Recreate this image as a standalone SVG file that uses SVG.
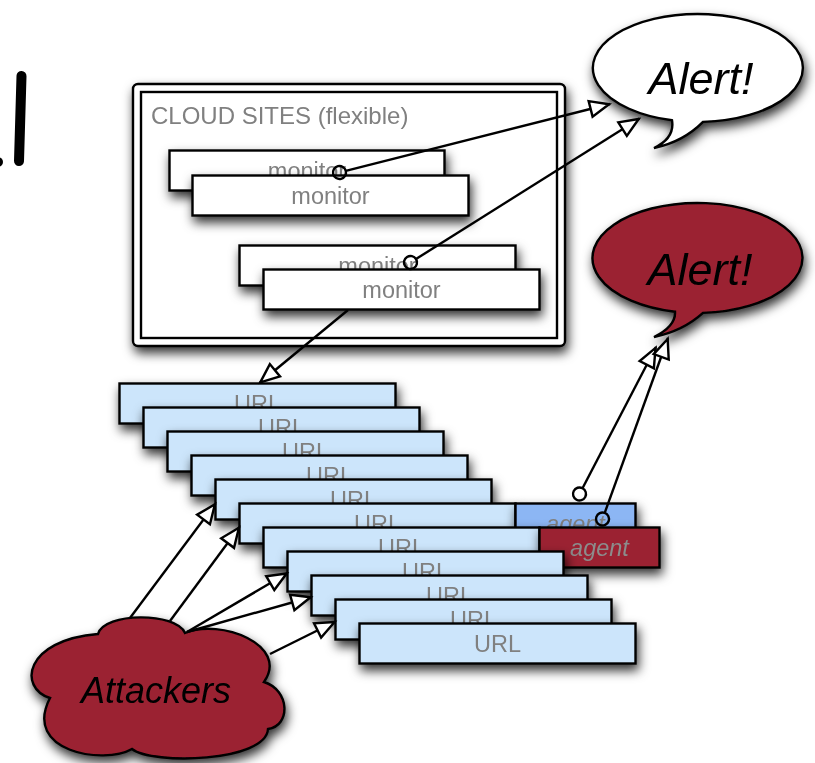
<svg xmlns="http://www.w3.org/2000/svg" width="815" height="763" viewBox="0 0 815 763">
<defs>
<style>
.box{stroke:#000;stroke-width:2.4}
.mon{fill:#fff}
.url{fill:#cce5fb}
.lbl{font-family:"Liberation Sans",Arial,sans-serif;font-size:23.5px;fill:#808080;text-anchor:middle}
.ital{font-style:italic}
.big{font-family:"Liberation Sans",Arial,sans-serif;font-size:45px;font-style:italic;fill:#000;text-anchor:middle}
.conn{fill:none;stroke:#000;stroke-width:2.4}
</style>
<filter id="sh" x="-30%" y="-50%" width="160%" height="230%">
<feDropShadow dx="2" dy="6" stdDeviation="5.5" flood-color="#000" flood-opacity="0.8"/>
</filter>
<marker id="arr" viewBox="-24 -11 26 22" refX="0" refY="0" markerWidth="26" markerHeight="22" orient="auto" markerUnits="userSpaceOnUse" overflow="visible">
<path d="M-1,0 L-20,-8 L-20,8 Z" fill="#fff" stroke="#000" stroke-width="2.4"/>
</marker>
<marker id="ball" viewBox="-16 -8 18 16" refX="0" refY="0" markerWidth="18" markerHeight="16" orient="auto" markerUnits="userSpaceOnUse" overflow="visible">
<circle cx="-6.5" cy="0" r="6.5" fill="none" stroke="#000" stroke-width="2.4"/>
</marker>
</defs>
<rect width="815" height="763" fill="#fff"/>

<g id="fragment">
<path d="M21.5,76 L19,161" stroke="#000" stroke-width="10" stroke-linecap="round" fill="none"/>
<circle cx="-2" cy="162" r="5" fill="#000"/>
</g>

<g id="cloud-sites" filter="url(#sh)">
<rect x="133" y="84" width="432" height="262" rx="5" fill="#fff" stroke="#000" stroke-width="2.4"/>
<rect x="141" y="92" width="416" height="246" fill="#fff" stroke="#000" stroke-width="2.4"/>
<text x="151" y="124" class="lbl" style="text-anchor:start;font-size:24px">CLOUD SITES (flexible)</text>
</g>

<g id="monitor-1b" filter="url(#sh)"><rect class="box mon" x="169.5" y="150.5" width="275" height="40"/><text class="lbl" x="307" y="178.5">monitor</text></g>
<g id="monitor-1f" filter="url(#sh)"><rect class="box mon" x="192.5" y="175.5" width="276" height="40"/><text class="lbl" x="330.5" y="203.5">monitor</text></g>
<g id="monitor-2b" filter="url(#sh)"><rect class="box mon" x="239.5" y="245.5" width="276" height="40"/><text class="lbl" x="377.5" y="273.5">monitor</text></g>
<g id="monitor-2f" filter="url(#sh)"><rect class="box mon" x="263.5" y="269.5" width="276" height="40"/><text class="lbl" x="401.5" y="297.5">monitor</text></g>

<g id="alert-white" filter="url(#sh)">
<path d="M672,120.3 A105,54 0 1 1 703,121.9 Q683,142 654,148 Q675,138 672,120.3 Z" fill="#fff" stroke="#000" stroke-width="2.4"/>
<text class="big" x="701" y="94">Alert!</text>
</g>
<g id="alert-red" filter="url(#sh)">
<path d="M675,311.7 A105,55 0 1 1 703,312.9 Q683,331 654,337 Q676,326 675,311.7 Z" fill="#9b2232" stroke="#000" stroke-width="2.4"/>
<text class="big" x="700" y="285">Alert!</text>
</g>

<g id="url-0" filter="url(#sh)"><rect class="box url" x="119.5" y="383.5" width="276" height="40"/><text class="lbl" x="257.5" y="411.5">URL</text></g>
<g id="url-1" filter="url(#sh)"><rect class="box url" x="143.5" y="407.5" width="276" height="40"/><text class="lbl" x="281.5" y="435.5">URL</text></g>
<g id="url-2" filter="url(#sh)"><rect class="box url" x="167.5" y="431.5" width="276" height="40"/><text class="lbl" x="305.5" y="459.5">URL</text></g>
<g id="url-3" filter="url(#sh)"><rect class="box url" x="191.5" y="455.5" width="276" height="40"/><text class="lbl" x="329.5" y="483.5">URL</text></g>
<g id="url-4" filter="url(#sh)"><rect class="box url" x="215.5" y="479.5" width="276" height="40"/><text class="lbl" x="353.5" y="507.5">URL</text></g>
<g id="url-5" filter="url(#sh)"><rect class="box url" x="239.5" y="503.5" width="276" height="40"/><text class="lbl" x="377.5" y="531.5">URL</text></g>
<g id="agent-blue" filter="url(#sh)"><rect class="box" fill="#8cb6f4" x="515.5" y="503.5" width="120" height="40"/><text class="lbl ital" x="575.5" y="531.5">agent</text></g>
<g id="url-6" filter="url(#sh)"><rect class="box url" x="263.5" y="527.5" width="276" height="40"/><text class="lbl" x="401.5" y="555.5">URL</text></g>
<g id="agent-red" filter="url(#sh)"><rect class="box" fill="#9b2232" x="539.5" y="527.5" width="120" height="40"/><text class="lbl ital" x="599.5" y="555.5" style="fill:#8c8c8c">agent</text></g>
<g id="url-7" filter="url(#sh)"><rect class="box url" x="287.5" y="551.5" width="276" height="40"/><text class="lbl" x="425.5" y="579.5">URL</text></g>
<g id="url-8" filter="url(#sh)"><rect class="box url" x="311.5" y="575.5" width="276" height="40"/><text class="lbl" x="449.5" y="603.5">URL</text></g>
<g id="url-9" filter="url(#sh)"><rect class="box url" x="335.5" y="599.5" width="276" height="40"/><text class="lbl" x="473.5" y="627.5">URL</text></g>
<g id="url-10" filter="url(#sh)"><rect class="box url" x="359.5" y="623.5" width="276" height="40"/><text class="lbl" x="497.5" y="651.5">URL</text></g>

<g id="attackers" filter="url(#sh)">
<path d="M50,698 C18,688 24,640 98,634 C104,612 176,612 185,633 C220,618 290,645 264,682 C290,690 291,726 268,729 C266,762 152,765 132,749 C104,765 22,752 50,698 Z" fill="#9b2232" stroke="#000" stroke-width="2.4"/>
<text x="156" y="703" style="font-family:'Liberation Sans',Arial,sans-serif;font-size:36px;font-style:italic;fill:#000;text-anchor:middle">Attackers</text>
</g>

<g id="connectors">
<path class="conn" d="M345.8,170.9 L610,104" marker-start="url(#ball)" marker-end="url(#arr)"/>
<path class="conn" d="M416,259 L639.5,118.5" marker-start="url(#ball)" marker-end="url(#arr)"/>
<path class="conn" d="M348,310 L259.5,383" marker-end="url(#arr)"/>
<path class="conn" d="M582.5,488.2 L656,347" marker-start="url(#ball)" marker-end="url(#arr)"/>
<path class="conn" d="M604.7,512.9 L668,338" marker-start="url(#ball)" marker-end="url(#arr)"/>
<path class="conn" d="M130,618 L215.5,503.5" marker-end="url(#arr)"/>
<path class="conn" d="M170,621 L239.5,527" marker-end="url(#arr)"/>
<path class="conn" d="M187,632 L287.5,573" marker-end="url(#arr)"/>
<path class="conn" d="M187,632 L311.5,597" marker-end="url(#arr)"/>
<path class="conn" d="M270,654 L335.5,621.5" marker-end="url(#arr)"/>
</g>
</svg>
